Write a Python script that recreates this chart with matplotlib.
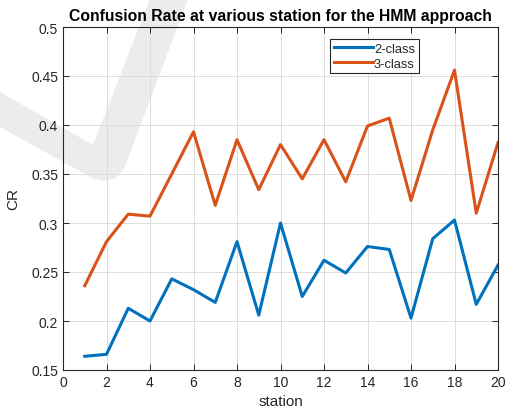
import numpy as np
import matplotlib.pyplot as plt
from matplotlib.patches import Polygon

plt.rcParams['font.family'] = ['Liberation Sans', 'DejaVu Sans']

station = np.arange(1, 21)
cr_2class = [0.164, 0.166, 0.213, 0.200, 0.243, 0.232, 0.219, 0.281, 0.206, 0.300,
             0.225, 0.262, 0.249, 0.276, 0.273, 0.203, 0.284, 0.303, 0.217, 0.257]
cr_3class = [0.236, 0.281, 0.309, 0.307, 0.350, 0.393, 0.318, 0.385, 0.334, 0.380,
             0.345, 0.385, 0.342, 0.399, 0.407, 0.323, 0.395, 0.456, 0.310, 0.382]
series_names = ['2-class', '3-class']

W, H = 508, 414
fig = plt.figure(figsize=(W / 100, H / 100), dpi=100, facecolor='white')
ax = fig.add_axes([63 / W, 1 - 371 / H, 435 / W, 343 / H])
ax.set_facecolor('none')

# faint grey tick mark in the background
mark = [(0, 93), (93, 146), (150, 0), (188, 0), (124, 170), (116, 179),
        (106, 182), (94, 180), (0, 128)]
mark = [(x / W, 1 - y / H) for x, y in mark]
fig.add_artist(Polygon(mark, closed=True, transform=fig.transFigure,
                       facecolor='#ececec', edgecolor='none', zorder=-5))

dark = '#262626'
ax.plot(station, cr_2class, color='#0072BD', lw=2.2, label=series_names[0])
ax.plot(station, cr_3class, color='#D95319', lw=2.2, label=series_names[1])

ax.set_xlim(0, 20)
ax.set_ylim(0.15, 0.5)
ax.set_xticks(np.arange(0, 21, 2))
ax.set_yticks(np.arange(0.15, 0.501, 0.05))
ax.set_yticklabels(['0.15', '0.2', '0.25', '0.3', '0.35', '0.4', '0.45', '0.5'])
ax.grid(True, color='#dcdcdc', lw=0.7)
ax.set_axisbelow(True)
ax.tick_params(direction='in', length=4, width=0.7, colors=dark, labelsize=10,
               top=True, right=True, labelcolor=dark)
for s in ax.spines.values():
    s.set_color(dark)
    s.set_linewidth(0.8)

ax.set_xlabel('station', fontsize=11, color=dark, labelpad=4)
ax.set_ylabel('CR', fontsize=11, color=dark, labelpad=8)
ax.set_title('Confusion Rate at various station for the HMM approach',
             fontsize=11.3, fontweight='bold', color='black', pad=5)

leg = ax.legend(loc='upper right', bbox_to_anchor=(0.818, 0.965), borderaxespad=0,
                fontsize=9.3, handlelength=3.0, handletextpad=0.1, labelspacing=0.2,
                fancybox=False, framealpha=1, edgecolor=dark, borderpad=0.3)
leg.get_frame().set_linewidth(0.8)
for t in leg.get_texts():
    t.set_color(dark)

fig.savefig('out.png', dpi=100)
